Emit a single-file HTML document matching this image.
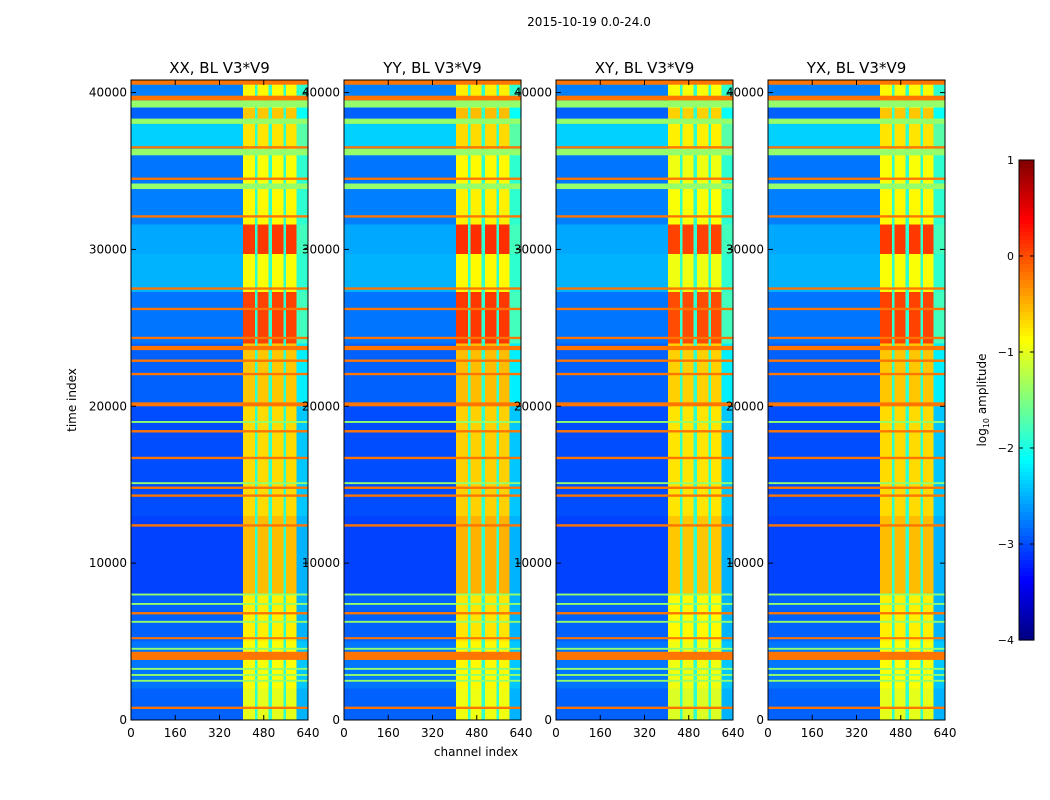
<!DOCTYPE html>
<html><head><meta charset="utf-8"><style>
body{margin:0;background:#fff;}
svg{display:block;font-family:"DejaVu Sans","Liberation Sans",sans-serif;}
</style></head><body>
<svg id="fig" width="1050" height="800" viewBox="0 0 1050 800" xmlns="http://www.w3.org/2000/svg">
<rect width="1050" height="800" fill="#fff"/>
<text x="589" y="26" font-size="12" text-anchor="middle">2015-10-19 0.0-24.0</text>
<text transform="translate(76,400) rotate(-90)" font-size="12" text-anchor="middle">time index</text>
<text x="476" y="756" font-size="12" text-anchor="middle">channel index</text>
<g id="panels"></g>
<g id="cbar"></g>
</svg>
<script>
// ---- data ----
const panelTitles = ["XX, BL V3*V9","YY, BL V3*V9","XY, BL V3*V9","YX, BL V3*V9"];
const panelOffsets = [0.0, 0.05, -0.05, 0.0];
const xTicks = [0,160,320,480,640];
const yTicks = [0,10000,20000,30000,40000];
const cbTicks = [1,0,-1,-2,-3,-4];
// channel column structure
const colEdges = [0,405,448,458,498,509,551,560,599,640];
const colTypes = ["bg","band","gap","band","gap","band","gap","band","side"];
// time segments: start, end, background level, band level, side level (log10 amplitude)
const segStart = [0,2000,5000,8000,13000,20000,24000,27300,29700,31600,34000,36300,38000,39000];
const segEnd   = [2000,5000,8000,13000,20000,24000,27300,29700,31600,34000,36300,38000,39000,40800];
const segBg    = [-2.9,-2.8,-2.9,-3.05,-3.0,-2.9,-2.8,-2.5,-2.55,-2.75,-2.8,-2.35,-2.9,-2.75];
const segBand  = [-1.0,-0.9,-0.8,-0.55,-0.7,-0.6,0.05,-0.9,0.1,-0.85,-0.9,-0.75,-0.6,-0.85];
const segSide  = [-2.5,-2.4,-2.5,-2.5,-2.4,-2.2,-1.8,-1.9,-1.8,-1.9,-1.9,-1.7,-2.1,-1.9];
const gapLevel = -1.9;
// RFI horizontal lines: start time, end time, level
const rfiStart = [700,3830,5150,6730,12330,14230,14730,16630,18330,20000,21980,22830,23580,24280,26130,27430,32030,34430,36430,39500,40500,
                  2440,2810,3200,4480,6200,7340,7940,15040,18940,33850,36000,38000,39050];
const rfiEnd   = [850,4350,5280,6880,12480,14380,14880,16780,18480,20250,22130,22980,23850,24430,26280,27580,32180,34580,36580,39800,40800,
                  2560,2930,3320,4600,6320,7460,8060,15160,19060,34200,36400,38340,39490];
const rfiLevel = [-0.2,-0.2,-0.2,-0.2,-0.2,-0.2,-0.2,-0.2,-0.2,-0.2,-0.2,-0.2,-0.2,-0.2,-0.2,-0.2,-0.2,-0.2,-0.2,-0.2,-0.2,
                  -1.4,-1.4,-1.4,-1.4,-1.4,-1.4,-1.4,-1.4,-1.4,-1.4,-1.4,-1.4,-1.4];

const NS="http://www.w3.org/2000/svg";
const panelLeft=[131,344,556,768], PW=177, PT=80, PH=640, TMAX=40800, CMAX=640;
const vmin=-4, vmax=1;
function jet(v){const x=Math.max(0,Math.min(1,(v-vmin)/(vmax-vmin)));
  const c=t=>Math.round(255*Math.max(0,Math.min(1,t)));
  return `rgb(${c(1.5-Math.abs(4*x-3))},${c(1.5-Math.abs(4*x-2))},${c(1.5-Math.abs(4*x-1))})`;}
function mk(tag,attrs,parent){const e=document.createElementNS(NS,tag);for(const k in attrs)e.setAttribute(k,attrs[k]);parent.appendChild(e);return e;}
const root=document.getElementById('panels');
panelLeft.forEach((L,p)=>{
  const xs=c=>L+c/CMAX*PW, ys=t=>PT+PH-t/TMAX*PH;
  const g=mk('g',{},root);
  
  
  const off=panelOffsets[p];
  for(let s=0;s<segStart.length;s++){
    for(let c=0;c<colTypes.length;c++){
      const ty=colTypes[c];
      const v=ty==="bg"?segBg[s]:ty==="band"?segBand[s]+off:ty==="gap"?gapLevel:segSide[s];
      const r=mk('rect',{x:xs(colEdges[c]),y:ys(segEnd[s]),width:xs(colEdges[c+1])-xs(colEdges[c]),height:ys(segStart[s])-ys(segEnd[s]),fill:jet(v),'shape-rendering':'crispEdges'},g);
      
      
    }
  }
  for(let i=0;i<rfiStart.length;i++){
    const r=mk('rect',{x:L,y:ys(rfiEnd[i]),width:PW,height:Math.max(1.5,ys(rfiStart[i])-ys(rfiEnd[i])),fill:jet(rfiLevel[i])},g);
    
    
  }
  mk('rect',{x:L,y:PT,width:PW,height:PH,fill:'none',stroke:'#000','stroke-width':1},g);
  const t=mk('text',{x:L+PW/2,y:PT-7,'font-size':15,'text-anchor':'middle'},g);
  t.textContent=panelTitles[p];
  
  
  xTicks.forEach(v=>{const x=xs(v);
    mk('line',{x1:x,x2:x,y1:PT+PH,y2:PT+PH-5,stroke:'#000'},g);
    mk('line',{x1:x,x2:x,y1:PT,y2:PT+5,stroke:'#000'},g);
    const tx=mk('text',{x:x,y:PT+PH+17,'font-size':12,'text-anchor':'middle'},g);tx.textContent=v;
    
    });
  yTicks.forEach(v=>{const y=ys(v);
    mk('line',{x1:L,x2:L+5,y1:y,y2:y,stroke:'#000'},g);
    mk('line',{x1:L+PW,x2:L+PW-5,y1:y,y2:y,stroke:'#000'},g);
    const tx=mk('text',{x:L-4,y:y+4,'font-size':12,'text-anchor':'end'},g);tx.textContent=v;
    
    });
});
// colorbar
const cb=document.getElementById('cbar');
const CX=1019,CW=15,CT=160,CH=480;
const cys=v=>CT+(vmax-v)/(vmax-vmin)*CH;
for(let i=0;i<120;i++){const v0=vmax-i*(vmax-vmin)/120;
  mk('rect',{x:CX,y:cys(v0),width:CW,height:CH/120+0.6,fill:jet(v0-(vmax-vmin)/240)},cb);}
mk('rect',{x:CX,y:CT,width:CW,height:CH,fill:'none',stroke:'#000'},cb);
cbTicks.forEach(v=>{const y=cys(v);
  mk('line',{x1:CX,x2:CX+4,y1:y,y2:y,stroke:'#000'},cb);
  mk('line',{x1:CX+CW,x2:CX+CW-4,y1:y,y2:y,stroke:'#000'},cb);
  const tx=mk('text',{x:CX-5,y:y+4,'font-size':11,'text-anchor':'end'},cb);tx.textContent=v<0?'\u2212'+(-v):v;
  
  });
const lab=mk('text',{transform:'translate(986,400) rotate(-90)','font-size':12,'text-anchor':'middle'},cb);
lab.innerHTML='log<tspan font-size="8" dy="3">10</tspan><tspan dy="-3"> amplitude</tspan>';


</script>
</body></html>
